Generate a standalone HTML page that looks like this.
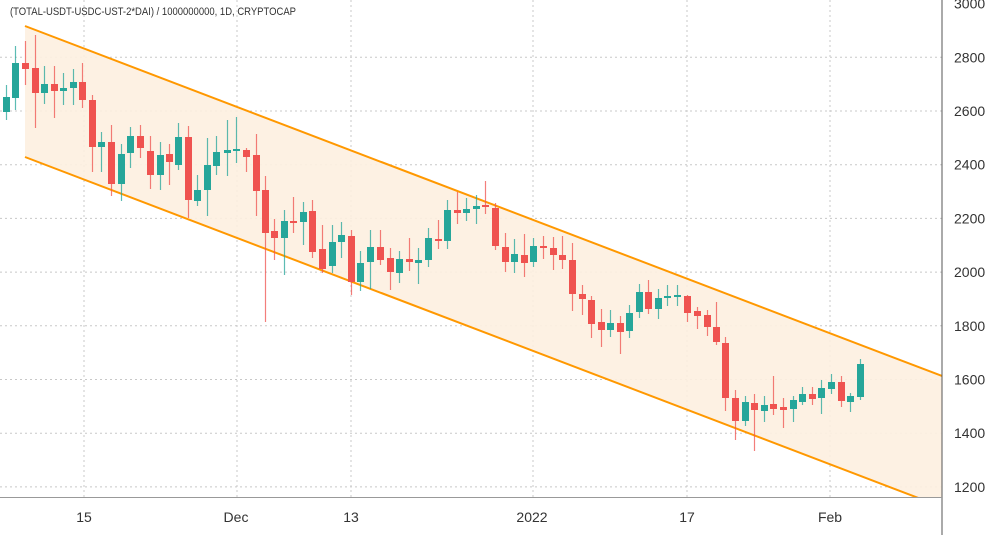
<!DOCTYPE html>
<html><head><meta charset="utf-8"><style>
html,body{margin:0;padding:0;background:#fff;}
svg{display:block;font-family:"Liberation Sans",sans-serif;}
</style></head><body>
<svg id="s" width="1000" height="535" viewBox="0 0 1000 535">
<defs><clipPath id="c"><rect x="0" y="0" width="942" height="497"/></clipPath></defs>
<g id="grid" stroke="#c8c8c8" stroke-dasharray="2,3" stroke-width="1"></g>
<g clip-path="url(#c)">
<polygon points="25,26 942,376 942,507 25,157" fill="#fdefe0" opacity="0.9"/>
<line x1="25" y1="26" x2="942" y2="376" stroke="#ff9800" stroke-width="2"/>
<line x1="25" y1="157" x2="942" y2="507" stroke="#ff9800" stroke-width="2"/>
<g id="cd"></g>
</g>
<line x1="942" y1="0" x2="942" y2="535" stroke="#555" stroke-width="1"/>
<line x1="0" y1="497.5" x2="942" y2="497.5" stroke="#999" stroke-width="1"/>
<text x="10" y="15" font-size="11" fill="#333" textLength="286" lengthAdjust="spacingAndGlyphs">(TOTAL-USDT-USDC-UST-2*DAI) / 1000000000, 1D, CRYPTOCAP</text>
<g id="yl" font-size="14" fill="#333"></g>
<g font-size="14" fill="#333" text-anchor="middle">
<text x="84" y="522">15</text><text x="236" y="522">Dec</text><text x="351" y="522">13</text>
<text x="532" y="522">2022</text><text x="687" y="522">17</text><text x="830" y="522">Feb</text>
</g>
</svg>
<script>
var ns="http://www.w3.org/2000/svg";
function el(p,t,a){var e=document.createElementNS(ns,t);for(var k in a)e.setAttribute(k,a[k]);p.appendChild(e);return e;}
var g=document.getElementById('grid'),yl=document.getElementById('yl');
for(var i=0;i<10;i++){var y=3.6+i*53.7,v=3000-i*200;
 if(i>0)el(g,'line',{x1:0,x2:942,y1:y,y2:y});
 var t=el(yl,'text',{x:954,y:y+5});t.textContent=v;}
[84,237,351,533,687,830].forEach(function(x){el(g,'line',{x1:x,x2:x,y1:0,y2:497});});
var d=[
[6,'g',97,112,85,120],[15,'g',63,98,46,110],[25,'r',63,69,41,85],[35,'r',68,93,35,128],
[44,'g',84,93,66,104],[54,'r',84,91,66,118],[63,'g',88,91,73,105],[73,'g',82,88,69,105],
[82,'r',82,100,63,108],[92,'r',100,147,95,172],[101,'g',142,147,132,172],[111,'r',142,184,125,196],
[121,'g',154,184,144,201],[130,'g',136,153,127,168],[140,'r',136,148,125,158],[150,'r',151,175,136,189],
[160,'g',155,175,142,190],[169,'r',154,162,144,185],[178,'g',137,165,123,170],[188,'r',137,200,126,218],
[197,'g',190,201,175,206],[207,'g',165,190,138,216],[216,'g',152,166,136,175],[227,'g',150,153,120,176],
[236,'g',149,151,117,163],[246,'r',150,157,148,172],[256,'r',155,191,134,216],[265,'r',190,233,176,322],
[274,'r',231,238,219,260],[284,'g',221,238,210,275],[293,'r',221,223,197,233],[303,'g',212,222,202,245],
[312,'r',211,252,200,258],[322,'r',249,269,225,273],[332,'g',242,266,225,273],[341,'g',235,242,222,258],
[351,'r',236,282,230,295],[360,'g',263,282,251,291],[370,'g',247,262,230,289],[380,'r',247,260,230,265],
[390,'r',258,272,248,290],[399,'g',259,273,251,283],[409,'r',259,262,238,271],[418,'g',260,263,248,284],
[428,'g',238,260,228,267],[438,'r',239,241,220,249],[447,'g',210,241,200,249],[457,'r',210,213,192,224],
[466,'g',209,213,198,221],[476,'g',206,209,195,224],[485,'r',205,207,181,214],[495,'r',208,246,203,250],
[505,'r',247,262,233,272],[514,'g',254,262,239,273],[524,'r',255,263,234,277],[533,'g',246,262,238,267],
[543,'r',246,248,236,259],[553,'r',248,255,237,270],[562,'r',255,260,236,269],[572,'r',260,294,243,311],
[582,'r',294,299,285,315],[591,'r',300,324,296,338],[601,'r',322,330,309,347],[610,'g',323,330,310,337],
[620,'r',323,332,316,354],[629,'g',313,331,305,338],[639,'g',292,312,284,318],[648,'r',292,309,280,314],
[658,'g',298,309,289,319],[667,'g',296,298,285,306],[677,'g',295,297,285,306],[687,'r',296,313,295,322],
[697,'r',311,316,307,329],[707,'r',315,327,310,336],[716,'r',327,342,302,345],[725,'r',343,398,337,411],
[735,'r',398,421,390,440],[745,'g',402,421,396,426],[754,'r',403,410,394,451],[764,'g',405,411,396,422],
[773,'r',404,409,376,415],[783,'r',407,410,398,428],[793,'g',400,409,396,422],[802,'g',394,402,387,405],
[812,'r',394,399,387,405],[821,'g',388,398,380,414],[831,'g',382,389,374,394],[841,'r',382,401,376,407],
[850,'g',396,402,393,412],[860,'g',364,397,359,400]];
var cd=document.getElementById('cd');
d.forEach(function(c){var col=c[1]=='g'?'#26a69a':'#ef5350';
 el(cd,'line',{x1:c[0]+0.5,x2:c[0]+0.5,y1:c[4],y2:c[5],stroke:col,'stroke-width':1.2,opacity:0.75});
 var h=Math.max(2,c[3]-c[2]);
 el(cd,'rect',{x:c[0]-3,y:c[2],width:7,height:h,fill:col});
});
</script>
</body></html>
